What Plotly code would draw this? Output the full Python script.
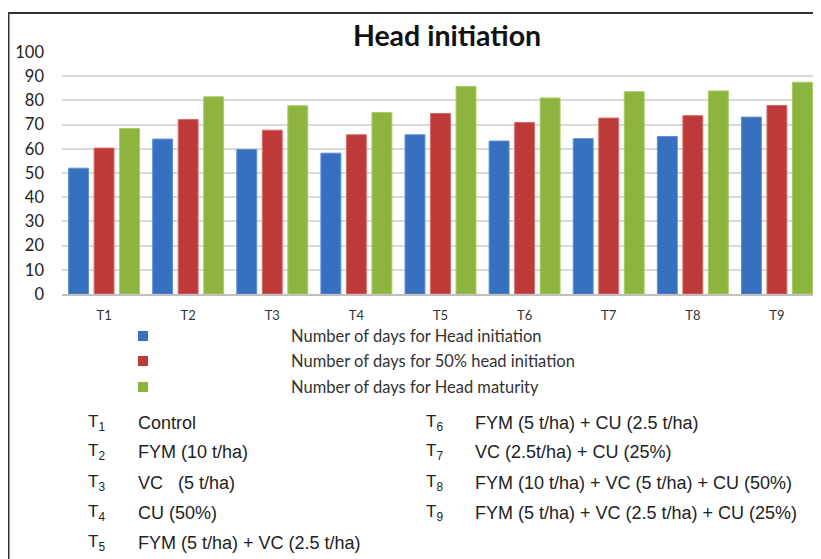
import plotly.graph_objects as go

categories = ["T1", "T2", "T3", "T4", "T5", "T6", "T7", "T8", "T9"]
head_initiation = [52.0, 64.0, 59.7, 58.2, 65.8, 63.2, 64.2, 65.1, 73.1]
head_initiation_50 = [60.3, 72.1, 67.7, 65.8, 74.6, 70.9, 72.7, 73.7, 77.9]
head_maturity = [68.4, 81.5, 77.8, 75.0, 85.8, 81.0, 83.6, 83.9, 87.5]
series_names = [
    "Number of days for Head initiation",
    "Number of days for 50% head initiation",
    "Number of days for Head maturity",
]
y_ticks = [0, 10, 20, 30, 40, 50, 60, 70, 80, 90, 100]
treatment_codes = ["1", "2", "3", "4", "5", "6", "7", "8", "9"]
treatments = [
    "Control",
    "FYM (10 t/ha)",
    "VC   (5 t/ha)",
    "CU (50%)",
    "FYM (5 t/ha) + VC (2.5 t/ha)",
    "FYM (5 t/ha) + CU (2.5 t/ha)",
    "VC (2.5t/ha) + CU (25%)",
    "FYM (10 t/ha) + VC (5 t/ha) + CU (50%)",
    "FYM (5 t/ha) + VC (2.5 t/ha) + CU (25%)",
]

colors = ["#3670BE", "#BE3A38", "#8DB43E"]
edge = ["#5a8fd6", "#d86a68", "#a9cc62"]

# The page body adds an 8px offset; the figure is sized to fill the rest of the window.
OFF = 8
W, H = 821 - OFF, 559 - OFF
ML, MR, MT, MB = 62 - OFF, 2, 52 - OFF, 265
PW = W - ML - MR
PH = H - MT - MB


def px_x(px):
    return (px - OFF - ML) / PW


def px_y(py):
    return (H - MB - (py - OFF)) / PH


fig = go.Figure()
for vals, name, c, e in zip([head_initiation, head_initiation_50, head_maturity], series_names, colors, edge):
    fig.add_trace(go.Bar(x=categories, y=vals, name=name, marker=dict(color=c, line=dict(color=e, width=1)),
                         showlegend=False))

shapes = []
annotations = []

# Manual legend (marker far from text, as in reference)
leg_y = [336, 361, 387]
for name, c, yy in zip(series_names, colors, leg_y):
    shapes.append(dict(type="rect", xref="paper", yref="paper",
                       x0=px_x(138), x1=px_x(148), y0=px_y(yy + 5), y1=px_y(yy - 5),
                       fillcolor=c, line=dict(color=c, width=0)))
    annotations.append(dict(xref="paper", yref="paper", x=px_x(289), y=px_y(yy), text=name,
                            showarrow=False, xanchor="left", yanchor="middle",
                            font=dict(family="Lato, sans-serif", size=16.5, color="#333333")))

# Treatment key
rows_y = [423, 452, 483, 513, 543]
key_font = dict(family="Liberation Sans, Arial, sans-serif", size=18, color="#222222")
for i, (code, label) in enumerate(zip(treatment_codes, treatments)):
    if i < 5:
        tx, lx, yy = 86, 136, rows_y[i]
    else:
        tx, lx, yy = 424, 473, rows_y[i - 5]
    annotations.append(dict(xref="paper", yref="paper", x=px_x(tx), y=px_y(yy), text="T<sub>" + code + "</sub>",
                            showarrow=False, xanchor="left", yanchor="middle",
                            font=dict(family="Liberation Sans, Arial, sans-serif", size=17, color="#222222")))
    annotations.append(dict(xref="paper", yref="paper", x=px_x(lx), y=px_y(yy), text=label,
                            showarrow=False, xanchor="left", yanchor="middle", font=key_font))

# Outer frame (top and left)
shapes.append(dict(type="line", xref="paper", yref="paper", x0=px_x(7), x1=px_x(830), y0=px_y(13), y1=px_y(13),
                   line=dict(color="#333333", width=2)))
shapes.append(dict(type="line", xref="paper", yref="paper", x0=px_x(8.5), x1=px_x(8.5), y0=px_y(13), y1=px_y(570),
                   line=dict(color="#333333", width=2)))

fig.update_layout(
    width=W, height=H,
    margin=dict(l=ML, r=MR, t=MT, b=MB, autoexpand=False),
    paper_bgcolor="white", plot_bgcolor="white",
    title=dict(text="<b>Head initiation</b>", x=(447 - OFF) / W, xanchor="center", y=1 - (36 - OFF) / H,
               yanchor="middle", font=dict(family="Lato, sans-serif", size=28.5, color="#111111")),
    barmode="group", bargap=0.09, bargroupgap=0.22,
    shapes=shapes, annotations=annotations,
    xaxis=dict(tickfont=dict(family="Lato, sans-serif", size=13, color="#333333"),
               ticklabelstandoff=8, showline=True, linecolor="#bfbfbf", linewidth=2, showgrid=False),
    yaxis=dict(range=[0, 100], tickvals=y_ticks, gridcolor="#d9d9d9", gridwidth=2,
               tickfont=dict(family="Lato, sans-serif", size=16.5, color="#222222"),
               ticklabelstandoff=17, zeroline=False, showline=False),
)

fig.write_html("out.html")
